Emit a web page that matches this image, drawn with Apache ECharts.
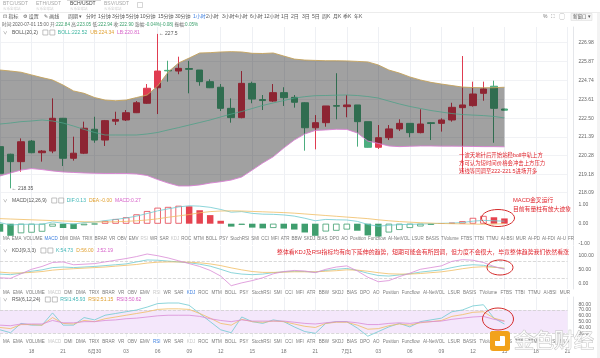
<!DOCTYPE html>
<html><head><meta charset="utf-8">
<script src="https://cdn.jsdelivr.net/npm/echarts@6/dist/echarts.min.js"></script>
<style>html,body{margin:0;padding:0;background:#fff}#c{width:600px;height:358px}</style>
</head><body><div id="c"></div>
<script>
// ---------- DATA ----------
const times = [
 '06-29 15:00','06-29 16:00','06-29 17:00','06-29 18:00','06-29 19:00','06-29 20:00','06-29 21:00','06-29 22:00','06-29 23:00',
 '06-30 00:00','06-30 01:00','06-30 02:00','06-30 03:00','06-30 04:00','06-30 05:00','06-30 06:00','06-30 07:00','06-30 08:00',
 '06-30 09:00','06-30 10:00','06-30 11:00','06-30 12:00','06-30 13:00','06-30 14:00','06-30 15:00','06-30 16:00','06-30 17:00',
 '06-30 18:00','06-30 19:00','06-30 20:00','06-30 21:00','06-30 22:00','06-30 23:00',
 '07-01 00:00','07-01 01:00','07-01 02:00','07-01 03:00','07-01 04:00','07-01 05:00','07-01 06:00','07-01 07:00','07-01 08:00',
 '07-01 09:00','07-01 10:00','07-01 11:00','07-01 12:00','07-01 13:00','07-01 14:00','07-01 15:00'];
const futureTimes = ['07-01 16:00','07-01 17:00','07-01 18:00','07-01 19:00','07-01 20:00','07-01 21:00'];

const opens  = [220.82,220.37,219.93,221.15,220.46,220.56,222.50,220.13,220.43,221.85,221.21,222.33,222.40,222.83,223.39,224.31,225.34,225.30,225.45,225.36,224.67,224.34,223.09,222.54,224.57,223.61,223.52,224.02,223.74,223.42,221.94,222.24,223.25,223.19,223.29,222.30,220.78,221.35,221.87,222.20,221.65,222.24,222.20,222.40,223.13,223.25,223.98,224.40,223.05];
const closes = [219.24,219.93,221.11,220.46,220.56,222.50,220.13,220.43,221.91,221.21,222.36,222.43,222.83,223.42,224.28,225.30,225.31,225.46,225.40,224.67,224.31,223.09,222.54,224.57,223.64,223.55,224.02,223.72,223.45,221.94,222.24,223.23,223.22,223.29,222.30,220.78,221.35,221.87,222.20,221.65,222.16,222.19,222.40,223.15,223.29,223.94,224.24,223.09,222.98];
const lows   = [219.02,218.35,219.33,220.43,219.93,220.43,219.67,219.99,220.38,221.05,220.86,222.10,222.34,222.81,223.35,222.75,224.67,225.11,223.98,224.43,224.29,222.93,222.24,222.50,223.39,222.99,223.47,223.23,223.13,220.58,220.66,222.00,222.44,222.56,220.82,220.76,220.68,221.21,221.75,221.37,221.61,221.21,221.71,222.30,219.30,223.19,223.54,221.05,222.96];
const highs  = [221.00,220.40,221.31,221.21,220.62,223.68,222.52,221.41,222.30,222.59,222.40,222.89,222.99,223.52,224.53,227.50,225.91,226.15,225.90,225.36,224.81,224.53,223.68,225.30,224.67,223.88,224.53,224.34,223.88,223.45,222.69,223.23,225.17,223.88,223.29,222.30,222.10,222.10,222.44,222.20,223.03,222.28,222.50,223.42,226.19,224.67,224.67,224.73,223.07];

const upperBand = [225.36,225.30,225.23,225.07,224.91,224.77,224.47,224.12,223.98,223.73,223.58,223.54,223.58,223.73,223.88,224.41,225.24,225.78,226.07,226.37,226.39,226.43,226.45,226.43,226.35,226.34,226.37,226.19,226.01,225.95,225.93,225.91,225.91,225.90,225.87,225.84,225.66,225.36,225.18,224.95,224.77,224.63,224.53,224.44,224.35,224.32,224.31,224.31,224.34];
const midBand   = [222.16,222.22,222.30,222.34,222.40,222.34,222.22,222.04,221.84,221.66,221.51,221.51,221.51,221.51,221.57,221.66,221.81,221.95,222.10,222.25,222.40,222.58,222.75,222.90,223.08,223.26,223.41,223.55,223.70,223.78,223.84,223.85,223.87,223.88,223.85,223.79,223.70,223.52,223.35,223.20,223.08,222.96,222.87,222.78,222.72,222.69,222.66,222.61,222.52];
const lowerBand = [219.08,219.26,219.43,219.52,219.46,219.38,219.32,219.29,219.26,219.24,219.23,219.23,219.23,219.20,219.11,218.87,218.66,218.49,218.49,218.55,218.66,218.74,218.84,219.02,219.43,219.85,220.22,220.74,221.21,221.57,221.78,221.81,221.85,221.84,221.63,221.15,221.01,220.86,220.82,220.84,220.86,220.86,220.85,220.85,220.84,220.83,220.82,220.82,220.81];

const macdHist = [-0.41,-0.62,-0.49,-0.46,-0.41,-0.15,-0.22,-0.27,-0.08,-0.03,0.14,0.24,0.33,0.48,0.65,0.82,0.86,0.92,0.89,0.69,0.44,0.15,-0.15,-0.06,-0.20,-0.24,-0.22,-0.25,-0.30,-0.45,-0.62,-0.40,-0.36,-0.30,-0.36,-0.60,-0.66,-0.45,-0.32,-0.22,-0.14,-0.06,0.02,0.05,0.13,0.30,0.40,0.33,0.27];
const difLine  = [0.06,-0.07,-0.03,-0.03,-0.03,0.09,0.03,-0.02,0.06,0.08,0.16,0.22,0.29,0.39,0.52,0.66,0.76,0.86,0.92,0.90,0.84,0.73,0.59,0.62,0.53,0.49,0.48,0.45,0.39,0.28,0.15,0.22,0.20,0.19,0.12,-0.04,-0.13,-0.08,-0.05,-0.03,-0.02,0.00,0.02,0.03,0.06,0.13,0.17,0.15,0.13];
const deaLine  = [0.26,0.24,0.22,0.20,0.18,0.16,0.14,0.12,0.10,0.09,0.09,0.10,0.12,0.15,0.19,0.25,0.33,0.40,0.47,0.56,0.62,0.65,0.66,0.65,0.63,0.61,0.59,0.57,0.54,0.50,0.46,0.42,0.38,0.34,0.30,0.26,0.20,0.15,0.11,0.08,0.05,0.03,0.01,0.00,-0.01,-0.02,-0.03,-0.02,-0.00];

const kLine = [35,33,38,45,50,58,60,58,60,62,65,68,71,78,85,84,81,78,75,70,63,52,40,35,33,35,40,43,45,44,42,48,52,55,48,38,30,28,32,36,42,46,50,58,65,68,66,60,54.73];
const dLine = [42,39,39,41,44,49,52,54,56,58,60,63,66,69,74,77,78,78,77,75,71,65,57,50,44,41,41,42,43,43,43,45,47,50,49,45,40,36,35,35,37,40,43,48,54,59,61,59,56.00];
const jLine = [22,20,36,52,62,76,78,68,70,72,78,84,90,97,106,100,92,82,72,62,48,28,-6,4,12,22,36,44,48,46,40,52,60,64,46,24,8,12,26,38,52,58,64,80,86,84,76,62,52.19];

const rsi1 = [36,31,47,44,44,65,44,44,57,53,61,64,67,70,75,81,82,82,78,64,50,36,31,58,50,47,53,50,41,33,30,47,50,50,39,25,33,41,47,41,50,53,56,67,70,77,79,56,45.93];
const rsi2 = [40,38,45,45,44,57,47,46,52,50,55,58,61,64,67,71,72,72,71,64,56,47,44,54,50,49,51,50,46,42,40,47,49,49,44,37,38,43,46,44,48,50,52,59,62,66,67,56,51.15];
const rsi3 = [44,43,46,46,46,52,48,48,50,50,52,53,55,56,58,60,61,61,61,59,55,52,50,53,51,51,51,51,49,47,46,48,50,50,48,45,45,47,48,47,49,50,51,54,56,58,59,54,50.62];

const priceTicks = [218.09,219.18,220.28,221.39,222.50,223.61,224.74,225.87,226.98];
const macdTicks = [-1,0,1];
const kdjTicks = [0,50,100];
const rsiTicks = [30,40,50,60,70,80];

// ---------- STYLE ----------
const FONT = '"Liberation Sans","Noto Sans CJK SC",sans-serif';
const UP = '#e03c51', DOWN = '#4cad7f';
const CYAN = '#6fcad0', ORANGE = '#f0bd62', PINK = '#d98ad6';
const categories = times.concat(futureTimes);
const GL = 0, GW = 567.5;
const grids = [
  {left: GL, top: 27, width: GW, height: 170},
  {left: GL, top: 197, width: GW, height: 48},
  {left: GL, top: 246, width: GW, height: 43},
  {left: GL, top: 297, width: GW, height: 40}
];
const yRanges = [[217.835, 227.91], [-1.092, 1.369], [-17.7, 134.3], [23.65, 92.3]];
const yTicks = [priceTicks, macdTicks, kdjTicks, rsiTicks];

const xAxes = grids.map((g, i) => ({
  type: 'category', gridIndex: i, data: categories, boundaryGap: false,
  axisLine: {show: false}, axisTick: {show: false},
  splitLine: {show: true, interval: (idx) => idx % 3 === 0, lineStyle: {color: '#eef0f4', width: 1}},
  axisLabel: i === 3 ? {
    show: true, interval: (idx) => idx % 3 === 0 && idx > 0, fontSize: 5, color: '#777', fontFamily: FONT, margin: 12,
    formatter: (v) => { const h = v.slice(6, 8); return h === '00' ? (+v.slice(0, 2)) + '月' + (+v.slice(3, 5)) : h; }
  } : {show: false}
}));
const yAxes = grids.map((g, i) => ({
  type: 'value', gridIndex: i, position: 'right', offset: 6,
  min: yRanges[i][0], max: yRanges[i][1],
  axisLine: {show: true, lineStyle: {color: '#e4e6ea'}},
  axisTick: {show: false, customValues: yTicks[i]},
  splitLine: {show: i === 0, lineStyle: {color: '#f1f2f5'}},
  axisLabel: {show: true, customValues: yTicks[i], fontSize: 5, color: '#666', fontFamily: FONT, margin: 5,
    formatter: (v) => Number(v).toFixed(2)}
}));

const candleData = opens.map((o, i) => [o, closes[i], lows[i], highs[i]]);
const bandWidth = upperBand.map((u, i) => +(u - lowerBand[i]).toFixed(4));
const macdBars = macdHist.map((v, i) => {
  const col = v >= 0 ? '#e5434f' : '#3f9e6e';
  const hollow = i > 0 && v > macdHist[i - 1];
  return {value: v, itemStyle: {color: hollow ? '#ffffff' : col, borderColor: col, borderWidth: hollow ? 0.8 : 0}};
});
const ln = (name, data, xi, color, zl, w) => ({
  name, type: 'line', xAxisIndex: xi, yAxisIndex: xi, data, symbol: 'none', silent: true,
  lineStyle: {color, width: w || 0.8}, z: 5, zlevel: zl || 0, animation: false
});

const series = [
  {type: 'candlestick', xAxisIndex: 0, yAxisIndex: 0, data: candleData, barWidth: 7, z: 2, zlevel: 0,
   itemStyle: {color: UP, color0: DOWN, borderColor: UP, borderColor0: DOWN, borderWidth: 1},
   markPoint: {symbol: 'circle', symbolSize: 0.1, silent: true, animation: false,
     label: {show: true, position: 'right', distance: 1, fontSize: 5, color: '#555', fontFamily: FONT, formatter: (p) => '← ' + p.value},
     data: [{type: 'max', valueDim: 'highest'}, {type: 'min', valueDim: 'lowest'}]},
   markLine: {symbol: ['none', 'none'], silent: true, animation: false, lineStyle: {opacity: 0},
     label: {show: true, position: 'end', distance: 8, fontSize: 5, color: '#fff', backgroundColor: '#3d9f6c', padding: [2, 3, 1.5, 3], fontFamily: FONT,
       formatter: (p) => Number(p.value).toFixed(2)},
     data: [{yAxis: closes[closes.length - 1]}]}},
  {type: 'line', xAxisIndex: 0, yAxisIndex: 0, data: lowerBand, stack: 'boll', symbol: 'none', silent: true, lineStyle: {opacity: 0}, z: 3, zlevel: 1},
  {type: 'line', xAxisIndex: 0, yAxisIndex: 0, data: bandWidth, stack: 'boll', symbol: 'none', silent: true, lineStyle: {opacity: 0},
   areaStyle: {color: 'rgba(0,0,0,0.37)', opacity: 1}, z: 3, zlevel: 1},
  ln('UB', upperBand, 0, '#c4a25a', 1, 0.9),
  ln('BOLL', midBand, 0, '#4f9f88', 1, 0.8),
  ln('LB', lowerBand, 0, '#d97fd3', 1, 0.9),
  {type: 'bar', xAxisIndex: 1, yAxisIndex: 1, data: macdBars, barWidth: 6.5, silent: true, z: 3},
  ln('DIF', difLine, 1, CYAN),
  ln('DEA', deaLine, 1, ORANGE),
  Object.assign(ln('K', kLine, 2, CYAN), {markLine: {symbol: ['none', 'none'], silent: true, animation: false, label: {show: false},
     lineStyle: {color: '#cfcfcf', type: 'dashed', width: 0.8}, data: [{yAxis: 80}, {yAxis: 20}]}}),
  ln('D', dLine, 2, ORANGE),
  ln('J', jLine, 2, PINK),
  Object.assign(ln('RSI1', rsi1, 3, CYAN), {markArea: {silent: true, itemStyle: {color: '#f4e7fb'}, data: [[{yAxis: 30}, {yAxis: 70}]]},
     markLine: {symbol: ['none', 'none'], silent: true, animation: false, label: {show: false},
     lineStyle: {color: '#cfcfcf', type: 'dashed', width: 0.8}, data: [{yAxis: 70}, {yAxis: 30}]}}),
  ln('RSI2', rsi2, 3, ORANGE),
  ln('RSI3', rsi3, 3, PINK)
];

// ---------- CHROME (text, annotations) ----------
const mctx = document.createElement('canvas').getContext('2d');
function tw(t, s) { mctx.font = s + 'px ' + FONT; return mctx.measureText(t).width; }
function T(x, y, text, size, fill, extra) {
  return {type: 'text', x, y, silent: true, z: 100, zlevel: 2,
    style: Object.assign({text, fill, fontSize: size, fontFamily: FONT, verticalAlign: 'middle', align: 'left'}, extra || {})};
}
function seq(x, y, segs, size, gap) {
  const out = [];
  for (const [t, c] of segs) { out.push(T(x, y, t, size, c)); x += tw(t, size) + (gap || 0); }
  return out;
}
function spread(words, x0, x1, y, size, colors) {
  const w = words.map(t => tw(t, size));
  const gap = (x1 - x0 - w.reduce((a, b) => a + b, 0)) / (words.length - 1);
  let x = x0;
  return words.map((t, i) => { const e = T(x, y, t, size, colors[t] || '#7a7a7a'); x += w[i] + gap; return e; });
}
const shp = (o) => Object.assign({silent: true, z: 100, zlevel: 2}, o);
const indWords = ['MA','EMA','VOLUME','MACD','DMI','DMA','TRIX','BRAR','VR','OBV','EMV','RSI','WR','SAR','KDJ','ROC','MTM','BOLL','PSY','StochRSI','SMI','CCI','MFI','ATR','BBW','SKDJ','BIAS','DPO','AO','Position','Funcflow','AI-NetVOL','LSUR','BASIS','TVolume','FTBS','TTBI','TTMU','AI-BSI','MUR','AI-PD','AI-FDI','AI-U','FR'];
const BLUE = '#3d7fe0', FADE = '#c8c8c8';
const periods = [['周期 ▾',68],['分时',86],['1分钟',98],['3分钟',112],['5分钟',126],['10分钟',140],['15分钟',158],['30分钟',175],['1小时',193],['2小时',206],['3小时',222],['4小时',235],['6小时',250],['12小时',264],['1日',281],['2日',291],['3日',302],['5日',312],['周K',322],['月K',333],['季K',343],['年K',354]];

let g = [];
// tabs
[['BTC/USDT',3],['ETH/USDT',36],['BCH/USDT',70],['BSV/USDT',104]].forEach(([t, x]) => {
  g.push(T(x, 4, t, 5, t === 'BCH/USDT' ? '#444' : '#a8a8a8'));
  g.push(T(x, 9, '火币全球站', 3.5, '#cfcfcf'));
});
g.push(shp({type: 'rect', shape: {x: 137.5, y: 2.5, width: 5, height: 5}, style: {fill: 'none', stroke: '#bbb', lineWidth: 0.6}}));
g.push(shp({type: 'line', shape: {x1: 0, y1: 12.5, x2: 600, y2: 12.5}, style: {stroke: '#ececec', lineWidth: 1}}));
g.push(shp({type: 'line', shape: {x1: 67, y1: 0.5, x2: 101, y2: 0.5}, style: {stroke: '#d8d8d8', lineWidth: 1}}));
// toolbar
g = g.concat(seq(3, 17, [['⊡ 指标', '#555'], ['⚙ 设置', '#555'], ['✎ 画线', '#555']], 5, 5));
periods.forEach(([t, x]) => g.push(T(x, 17, t, 5, t === '1小时' ? BLUE : '#555')));
g = g.concat(seq(543, 17, [['%', '#777'], ['⛶', '#777'], ['▢', '#777']], 5, 4));
g.push(shp({type: 'rect', shape: {x: 571, y: 13.5, width: 21, height: 7}, style: {fill: '#f6f6f6', stroke: '#ddd', lineWidth: 0.6}}));
g.push(T(573, 17, '新窗口 ▾', 4.5, '#555'));
// info line
const GR = '#3aa06c', DK = '#666';
g = g.concat(seq(2, 24.5, [['时间:2020-07-01 15:00 ', DK], ['开:', DK], ['222.84 ', GR], ['高:', DK], ['223.05 ', GR], ['低:', DK], ['222.94 ', GR],
  ['收:', DK], ['222.90 ', GR], ['涨幅:', DK], ['-0.04%(-0.08) ', GR], ['振幅:', DK], ['0.05%', GR]], 4.6, 0));
// legends
function legend(y, title, items) {
  let out = [T(3, y, '∨', 4.5, '#888'), T(12, y, title, 5, '#555')];
  let x = 12 + tw(title, 5) + 5;
  out.push(shp({type: 'rect', shape: {x: x, y: y - 2.5, width: 5, height: 5}, style: {fill: 'none', stroke: '#999', lineWidth: 0.6}}));
  out.push(shp({type: 'rect', shape: {x: x + 7, y: y - 2.5, width: 5, height: 5}, style: {fill: 'none', stroke: '#999', lineWidth: 0.6}}));
  x += 15;
  return out.concat(seq(x, y, items, 5, 3));
}
g = g.concat(legend(32.5, 'BOLL(20,2)', [['BOLL:222.52', '#3db5a0'], ['UB:224.34', '#e0a030'], ['LB:220.81', '#d660c8']]));
g = g.concat(legend(200.5, 'MACD(12,26,9)', [['DIF:0.13', '#3db5b5'], ['DEA:-0.00', '#e0a030'], ['MACD:0.27', '#d660c8']]));
g = g.concat(legend(250.5, 'KDJ(9,3,3)', [['K:54.73', '#3db5b5'], ['D:56.00', '#e0a030'], ['J:52.19', '#d660c8']]));
g = g.concat(legend(299.5, 'RSI(6,12,24)', [['RSI1:45.93', '#3db5b5'], ['RSI2:51.15', '#e0a030'], ['RSI3:50.62', '#d660c8']]));
// indicator rows
g = g.concat(spread(indWords, 3, 574, 238.5, 4.5, {MACD: BLUE, RSI: FADE, KDJ: FADE}));
g = g.concat(spread(indWords.slice(0, 40), 3, 570, 292.5, 4.5, {KDJ: BLUE, RSI: FADE, MACD: FADE}));
g = g.concat(spread(indWords.slice(0, 40), 3, 570, 341.5, 4.5, {RSI: BLUE, KDJ: FADE, MACD: FADE}));
// annotations
const RED = '#e0262e';
g.push(T(459, 155.5, '一波天地针后开始站稳boll中轨上方', 5.4, RED));
g.push(T(459, 163.5, '方可认为短时间价格会冲击上方压力', 5.4, RED));
g.push(T(459, 171.5, '短线等回调至222-221.5进场开多', 5.4, RED));
g.push(T(513, 200.5, 'MACD金叉运行', 5.8, RED));
g.push(T(513, 209.5, '目前有量柱有放大迹象', 5.8, RED));
g.push(T(277, 252, '整体看KDJ及RSI指标均有向下延伸的趋势，短期可能会有所回调，但力度不会很大，毕竟整体趋势我们依然看涨', 5.9, RED));
[[498, 218, 16.5, 8.5], [500, 267.5, 13, 7.5], [498, 319, 15.5, 11]].forEach(([cx, cy, rx, ry]) =>
  g.push(shp({type: 'ellipse', shape: {cx, cy, rx, ry}, style: {fill: 'none', stroke: '#d42a2a', lineWidth: 1}})));
// watermark
g.push(shp({type: 'rect', shape: {x: 490, y: 331, width: 20, height: 20, r: 3}, style: {fill: '#f2a21b'}, z: 101}));
g.push(shp({type: 'rect', shape: {x: 495, y: 336, width: 10, height: 10, r: 1}, style: {fill: '#fff'}, z: 102}));
g.push(shp({type: 'rect', shape: {x: 490, y: 331, width: 10, height: 10, r: [3, 0, 0, 0]}, style: {fill: '#f2a21b'}, z: 103}));
g.push(T(514, 342, '金色财经', 20, 'rgba(255,255,255,0.9)', {stroke: '#c4c4c4', lineWidth: 1}));
// right scrollbar strip
g.push(shp({type: 'rect', shape: {x: 597, y: 13, width: 3, height: 345}, style: {fill: '#f3f3f3'}, z: 99}));

const chart = echarts.init(document.getElementById('c'), null, {renderer: 'canvas'});
chart.setOption({
  animation: false,
  backgroundColor: '#fff',
  textStyle: {fontFamily: FONT},
  grid: grids,
  xAxis: xAxes,
  yAxis: yAxes,
  series,
  graphic: g
});
</script></body></html>
